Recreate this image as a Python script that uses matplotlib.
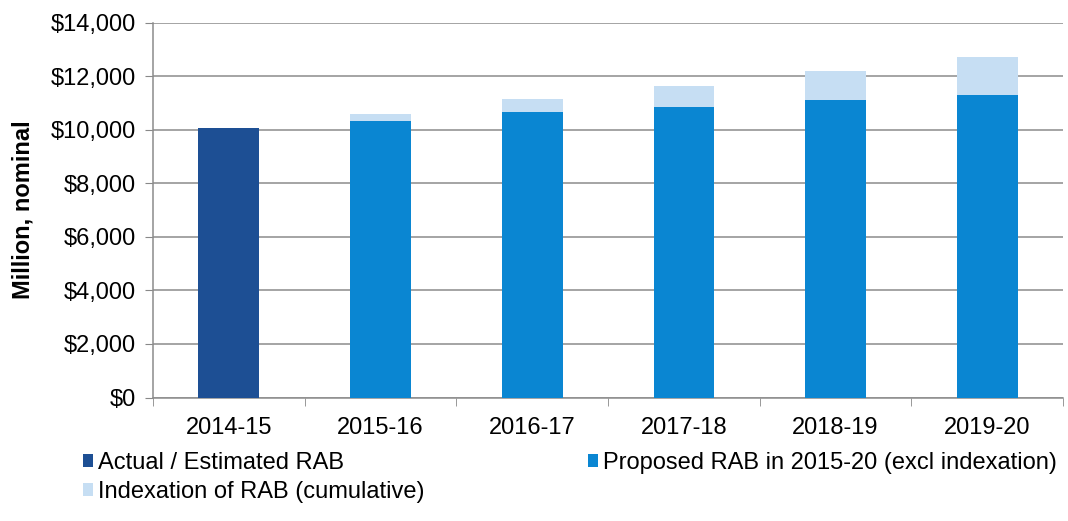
import numpy as np
import matplotlib.pyplot as plt
from matplotlib.ticker import FuncFormatter

plt.rcParams['font.family'] = ['Liberation Sans', 'DejaVu Sans']

years = ["2014-15", "2015-16", "2016-17", "2017-18", "2018-19", "2019-20"]
actual_rab = [10070, 0, 0, 0, 0, 0]
proposed_rab = [0, 10340, 10650, 10860, 11090, 11300]
indexation = [0, 250, 500, 785, 1095, 1430]

c_actual = "#1d4f94"
c_proposed = "#0a86d2"
c_index = "#c6def3"

fig = plt.figure(figsize=(10.68, 5.21), dpi=100)
ax = fig.add_axes([153 / 1068, 1 - 397.5 / 521, 910 / 1068, 375 / 521])

x = np.arange(len(years))
w = 0.4
ax.bar(x, actual_rab, w, color=c_actual, label="Actual / Estimated RAB", zorder=3)
ax.bar(x, proposed_rab, w, color=c_proposed,
       label="Proposed RAB in 2015-20 (excl indexation)", zorder=3)
ax.bar(x, indexation, w, bottom=proposed_rab, color=c_index,
       label="Indexation of RAB (cumulative)", zorder=3)

ax.set_xlim(-0.5, len(years) - 0.5)
ax.set_ylim(0, 14000)
ax.set_yticks(np.arange(0, 14001, 2000))
ax.yaxis.set_major_formatter(FuncFormatter(lambda v, p: f"${v:,.0f}"))
ax.set_xticks(x)
ax.set_xticklabels(years)
ax.set_xticks(np.arange(-0.5, len(years), 1), minor=True)
ax.tick_params(axis="x", which="major", length=0, labelsize=17, pad=14)
ax.tick_params(axis="x", which="minor", length=6, color="#888888", direction="out")
ax.tick_params(axis="y", length=6, color="#888888", labelsize=17, pad=6)

ax.grid(axis="y", color="#8c8c8c", linewidth=1.1, zorder=0)
for s in ["top", "right"]:
    ax.spines[s].set_visible(False)
for s in ["left", "bottom"]:
    ax.spines[s].set_color("#8c8c8c")
    ax.spines[s].set_linewidth(1.1)

ax.set_ylabel("Million, nominal", fontsize=17, fontweight="bold", labelpad=12)

h, l = ax.get_legend_handles_labels()
order = [0, 2, 1]
fig.legend([h[i] for i in order], [l[i] for i in order], ncol=2,
           loc="upper left", bbox_to_anchor=(71 / 1068, 1 - 440 / 521),
           frameon=False, fontsize=17, handlelength=0.45, handleheight=0.45,
           handletextpad=0.2, columnspacing=6.9, labelspacing=0.3,
           borderpad=0)

fig.savefig("out.png", dpi=100)
